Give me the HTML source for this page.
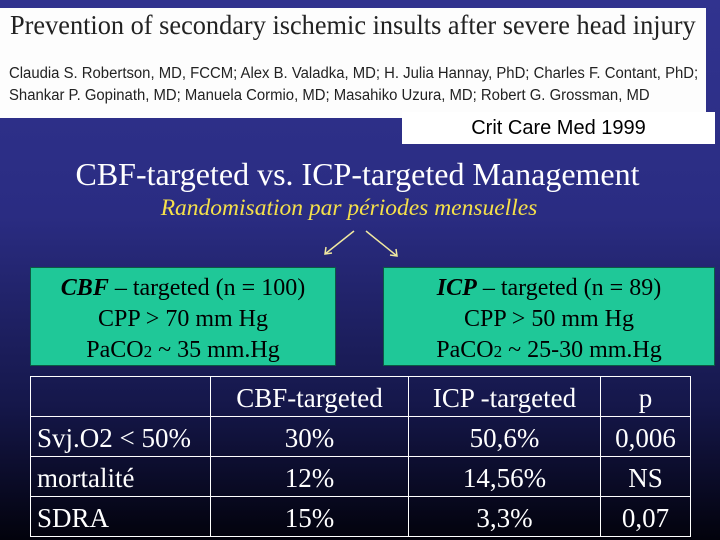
<!DOCTYPE html>
<html><head><meta charset="utf-8"><style>
body{margin:0;width:720px;height:540px;overflow:hidden;background:linear-gradient(#31338f 0%,#2a2c82 40%,#15174a 75%,#02020c 100%);font-family:"Liberation Serif",serif;position:relative}
.abs{position:absolute}
.box{position:absolute;background:#1fc898;border:1px solid #0c5a44;color:#000;text-align:center;font-size:24px;line-height:31px;box-sizing:border-box;padding-top:5px;white-space:nowrap}
td{border:1.5px solid #fff;color:#fff;font-size:27px;padding:4px 0 0 6px;height:35px;white-space:nowrap;line-height:35px}
td.c{text-align:center;padding:4px 0 0 0}
</style></head><body>
<div class="abs" style="left:0;top:8px;width:706px;height:110px;background:#fdfdfd"></div>
<div class="abs" style="left:10px;top:10px;font-size:27px;color:#222;white-space:nowrap;transform:scaleX(0.975);transform-origin:left">Prevention of secondary ischemic insults after severe head injury</div>
<div class="abs" style="left:9px;top:63px;font-family:'Liberation Sans',sans-serif;font-size:15.5px;line-height:22px;color:#222;white-space:nowrap;transform:scaleX(0.96);transform-origin:left">Claudia S. Robertson, MD, FCCM; Alex B. Valadka, MD; H. Julia Hannay, PhD; Charles F. Contant, PhD;<br>Shankar P. Gopinath, MD; Manuela Cormio, MD; Masahiko Uzura, MD; Robert G. Grossman, MD</div>
<div class="abs" style="left:402px;top:112px;width:313px;height:32px;background:#fff;font-family:'Liberation Sans',sans-serif;font-size:20px;text-align:center;line-height:32px;color:#000">Crit Care Med 1999</div>
<div class="abs" style="left:0;width:715px;top:156px;text-align:center;color:#fff;font-size:32px;white-space:nowrap">CBF-targeted vs. ICP-targeted Management</div>
<div class="abs" style="left:0;width:698px;top:195px;text-align:center;color:#f5e04a;font-size:23.5px;font-style:italic;white-space:nowrap">Randomisation par périodes mensuelles</div>
<svg class="abs" style="left:0;top:0" width="720" height="540">
<g stroke="#f0e8a0" stroke-width="1.5" fill="none">
<line x1="354" y1="231" x2="325" y2="254"/><polyline points="326,247 325,254 332,253"/>
<line x1="366" y1="231" x2="397" y2="256"/><polyline points="390,255 397,256 396,249"/>
</g></svg>
<div class="box" style="left:30px;top:267px;width:306px;height:99px"><b><i>CBF</i></b> – targeted (n = 100)<br>CPP &gt; 70 mm Hg<br>PaCO<span style="font-size:17px">2</span> ~ 35 mm.Hg</div>
<div class="box" style="left:383px;top:267px;width:332px;height:99px"><b><i>ICP</i></b> – targeted (n = 89)<br>CPP &gt; 50 mm Hg<br>PaCO<span style="font-size:17px">2</span> ~ 25-30 mm.Hg</div>
<table class="abs" style="left:30px;top:376px;width:661px;border-collapse:collapse">
<tr><td style="width:173px"></td><td class="c" style="width:197px">CBF-targeted</td><td class="c" style="width:191px">ICP -targeted</td><td class="c">p</td></tr>
<tr><td>Svj.O2 &lt; 50%</td><td class="c">30%</td><td class="c">50,6%</td><td class="c">0,006</td></tr>
<tr><td>mortalité</td><td class="c">12%</td><td class="c">14,56%</td><td class="c">NS</td></tr>
<tr><td>SDRA</td><td class="c">15%</td><td class="c">3,3%</td><td class="c">0,07</td></tr>
</table>
</body></html>
